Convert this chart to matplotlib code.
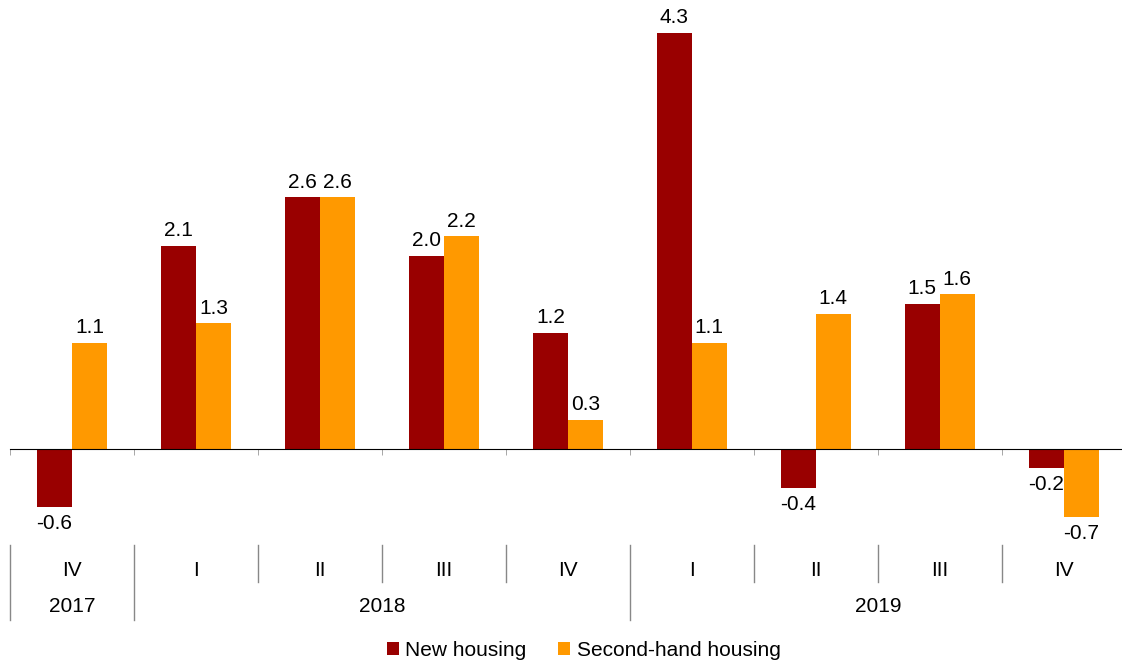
import matplotlib
matplotlib.use('Agg')
import matplotlib.pyplot as plt
import matplotlib.transforms as mtransforms
import numpy as np

quarters = ['IV', 'I', 'II', 'III', 'IV', 'I', 'II', 'III', 'IV']
years = ['2017', '2018', '2019']
year_spans = [(0, 0), (1, 4), (5, 8)]
new_housing = [-0.6, 2.1, 2.6, 2.0, 1.2, 4.3, -0.4, 1.5, -0.2]
second_hand = [1.1, 1.3, 2.6, 2.2, 0.3, 1.1, 1.4, 1.6, -0.7]

RED, ORANGE = '#990000', '#FF9900'
W, H = 1122, 663
FS = 15

plt.rcParams['font.family'] = ['Liberation Sans', 'DejaVu Sans']

fig = plt.figure(figsize=(W / 100, H / 100), dpi=100)
# axes: x from px 10 to 1122, y from px 20 to 530
ax = fig.add_axes([10 / W, 1 - 530 / H, 1112 / W, 510 / H])

x = np.arange(len(quarters))
bw = 35 / 124
b1 = ax.bar(x - bw / 2, new_housing, bw, color=RED, label='New housing')
b2 = ax.bar(x + bw / 2, second_hand, bw, color=ORANGE, label='Second-hand housing')

for bars in (b1, b2):
    for r in bars:
        v = r.get_height()
        ax.annotate(f'{v:.1f}', (r.get_x() + r.get_width() / 2, v),
                    xytext=(0, 4 if v >= 0 else -5), textcoords='offset points',
                    ha='center', va='bottom' if v >= 0 else 'top', fontsize=FS)

ax.set_xlim(-0.5, 8.47)
ax.set_ylim(-(530 - 449) / 96.74, 4.3 + (33 - 20) / 96.74)
for s in ['top', 'right', 'left']:
    ax.spines[s].set_visible(False)
ax.spines['bottom'].set_position(('data', 0))
ax.spines['bottom'].set_color('black')
ax.set_yticks([])
ax.set_xticks([])
ax.set_xticks(np.arange(-0.5, 8.5, 1), minor=True)
ax.tick_params(axis='x', which='minor', length=4, color='#999999', labelbottom=False)

# category axis below the plot
tr = mtransforms.blended_transform_factory(ax.transData, fig.transFigure)
def fy(px):
    return 1 - px / H

for i, q in enumerate(quarters):
    ax.text(i, fy(571), q, transform=tr, ha='center', va='center', fontsize=FS)
for (a, b), yr in zip(year_spans, years):
    ax.text((a + b) / 2, fy(606), yr, transform=tr, ha='center', va='center', fontsize=FS)

long_bounds = [-0.5, 0.5, 4.5]
for bnd in np.arange(-0.5, 8.5, 1):
    bottom = 620 if bnd in long_bounds else 582
    ax.plot([bnd, bnd], [fy(545), fy(bottom)], transform=tr, color='#888888',
            lw=1, clip_on=False)

fig.legend(handles=[b1, b2], loc='center', bbox_to_anchor=(0.52, fy(650)), ncol=2,
           frameon=False, fontsize=FS, handlelength=0.6, handleheight=0.6,
           handletextpad=0.3, columnspacing=1.5)

fig.savefig('out.png', dpi=100)
